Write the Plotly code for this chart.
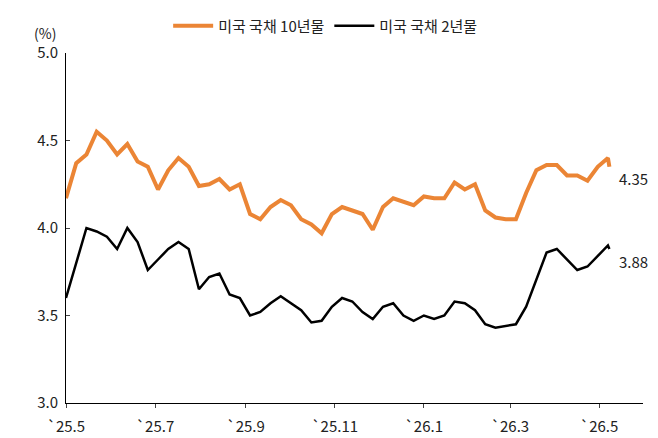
import plotly.graph_objects as go
import pandas as pd

dates = list(pd.date_range("2025-05-01", periods=54, freq="7D").strftime("%Y-%m-%d")) + ["2026-05-08"]
y10 = [4.17,4.37,4.42,4.55,4.50,4.42,4.48,4.38,4.35,4.22,4.33,4.40,4.35,4.24,4.25,4.28,4.22,4.25,
       4.08,4.05,4.12,4.16,4.13,4.05,4.02,3.97,4.08,4.12,4.10,4.08,3.99,4.12,4.17,4.15,4.13,4.18,
       4.17,4.17,4.26,4.22,4.25,4.10,4.06,4.05,4.05,4.20,4.33,4.36,4.36,4.30,4.30,4.27,4.35,4.40,4.35]
y2 = [3.60,3.80,4.00,3.98,3.95,3.88,4.00,3.92,3.76,3.82,3.88,3.92,3.88,3.65,3.72,3.74,3.62,3.60,
      3.50,3.52,3.57,3.61,3.57,3.53,3.46,3.47,3.55,3.60,3.58,3.52,3.48,3.55,3.57,3.50,3.47,3.50,
      3.48,3.50,3.58,3.57,3.53,3.45,3.43,3.44,3.45,3.55,3.70,3.86,3.88,3.82,3.76,3.78,3.84,3.90,3.88]
tickvals = ["2025-05-01","2025-07-01","2025-09-01","2025-11-01","2026-01-01","2026-03-01","2026-05-01"]
ticktext = ["`25.5","`25.7","`25.9","`25.11","`26.1","`26.3","`26.5"]

font = "Noto Sans CJK KR"
fig = go.Figure()
fig.add_trace(go.Scatter(x=dates, y=y10, mode="lines", name="미국 국채 10년물",
                         line=dict(color="#EB8535", width=4)))
fig.add_trace(go.Scatter(x=dates, y=y2, mode="lines", name="미국 국채 2년물",
                         line=dict(color="#000000", width=2.5)))
fig.add_annotation(x=dates[-1], y=y10[-1], text=f"{y10[-1]:.2f}", xanchor="left", xshift=8, yshift=-12,
                   showarrow=False, font=dict(size=15, color="#222"))
fig.add_annotation(x=dates[-1], y=y2[-1], text=f"{y2[-1]:.2f}", xanchor="left", xshift=8, yshift=-12,
                   showarrow=False, font=dict(size=15, color="#222"))
fig.add_annotation(x=0, y=1, xref="paper", yref="paper", text="(%)", xanchor="right", yanchor="bottom",
                   xshift=-8, yshift=8, showarrow=False, font=dict(size=14, color="#222"))
fig.update_layout(
    width=658, height=438, margin=dict(l=58, r=23, t=45, b=43, autoexpand=False),
    plot_bgcolor="white", paper_bgcolor="white",
    font=dict(family=font, size=15, color="#222"),
    legend=dict(orientation="h", x=0.45, xanchor="center", y=1.03, yanchor="bottom",
                font=dict(size=15), itemwidth=40),
    xaxis=dict(range=["2025-05-01", "2026-05-31"], tickvals=tickvals, ticktext=ticktext,
               showgrid=False, showline=True, linecolor="#000", ticks="outside", ticklen=4,
               ticklabelstandoff=6, zeroline=False),
    yaxis=dict(range=[3.0, 5.0], dtick=0.5, tickformat=".1f", showgrid=False, showline=True,
               linecolor="#000", ticks="inside", ticklen=4, ticklabelstandoff=4, zeroline=False),
)
fig.write_html("out.html")
